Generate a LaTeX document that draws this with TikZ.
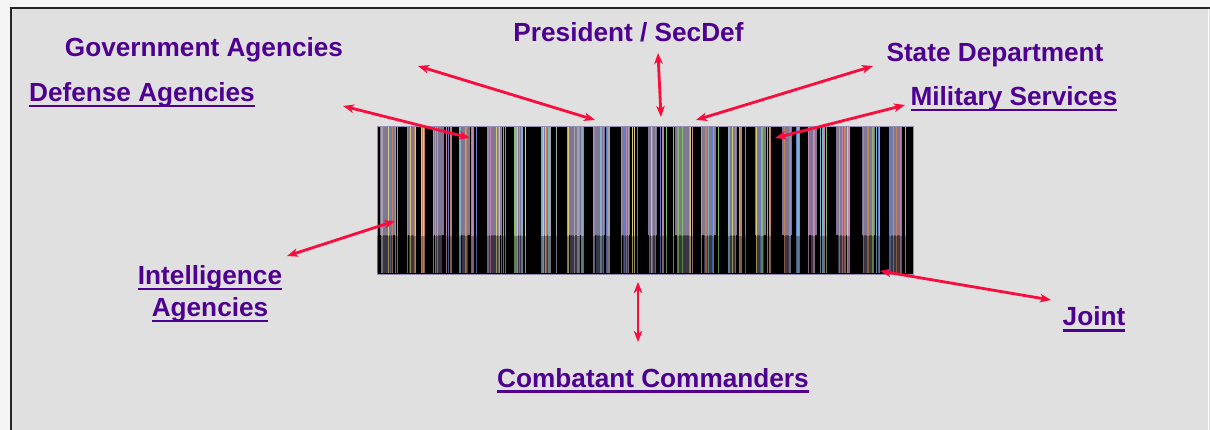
\documentclass[tikz,border=0pt]{standalone}
\usepackage{fontspec}
\setmainfont{Liberation Sans}
\usetikzlibrary{arrows.meta}
\definecolor{bgpanel}{RGB}{224,224,224}
\definecolor{txtpurple}{RGB}{78,0,145}
\definecolor{arrred}{RGB}{250,12,60}
\definecolor{bc1}{RGB}{150,140,175}
\definecolor{bc2}{RGB}{130,190,100}
\definecolor{bc3}{RGB}{215,205,120}
\definecolor{bc4}{RGB}{195,130,90}
\definecolor{bc5}{RGB}{100,125,200}
\definecolor{bc6}{RGB}{130,180,200}
\definecolor{bc7}{RGB}{195,135,175}
\definecolor{bc8}{RGB}{165,160,175}
\newcommand\ulbox[1]{\setbox0\hbox{#1}\rlap{\rule[-5.5pt]{\wd0}{2.2pt}}\box0}
\begin{document}
\begin{tikzpicture}[x=1pt,y=-1pt,
  lab/.style={text=txtpurple, font=\fontsize{26.2}{30}\selectfont\bfseries, anchor=base, inner sep=0pt},
  arr/.style={draw=arrred, line width=2.8pt,
    {Stealth[length=11pt,width=8.5pt,inset=3pt]}-{Stealth[length=11pt,width=8.5pt,inset=3pt]}}]
\useasboundingbox (0,0) rectangle (1210,430);
\fill[white!96!black] (0,0) rectangle (1210,430);
\fill[bgpanel] (10,8) rectangle (1210,430);
\draw[black!85, line width=2pt] (11,430) -- (11,8) -- (1210,8);
\draw[white!90!bgpanel, line width=1pt] (1208.5,9) -- (1208.5,430);

% barcode image
\node[fill=black, draw=bc1, line width=0.8pt, minimum width=536pt, minimum height=148pt, inner sep=0pt] (bar) at (645,200) {};
\pgfmathsetseed{7}
\begin{scope}
\clip (377,127) rectangle (913,273);
\foreach \i in {0,...,19}{
  \pgfmathsetmacro\xo{379+26.8*\i}
  \pgfmathsetmacro\bw{8+rnd*8}
  \fill[bc1!85!black] (\xo+1,127) rectangle ++(\bw,108);
  \fill[bc1!55!black] (\xo+3,235) rectangle ++(\bw-4,38);
  \foreach \j in {1,...,9}{
    \pgfmathsetmacro\xl{\xo+rnd*19}
    \pgfmathtruncatemacro\cc{random(1,8)}
    \draw[bc\cc, line width=0.9pt] (\xl,127) -- (\xl,273);
  }
}
\fill[black, opacity=0.3] (377,236) rectangle (913,274);
\end{scope}

% labels
\node[lab] (gov) at (204,57) {Government Agencies};
\node[lab] (def) at (142,102) {\ulbox{Defense Agencies}};
\node[lab] (pres) at (628.5,42) {President / SecDef};
\node[lab] (state) at (995,62) {State Department};
\node[lab] (mil) at (1014,106) {\ulbox{Military Services}};
\node[lab, anchor=center, align=center] (intel) at (210,294) {\ulbox{Intelligence}\\[1.5pt]\ulbox{Agencies}};
\node[lab] (cc) at (653,387) {\ulbox{Combatant Commanders}};
\node[lab] (joint) at (1094,326) {\ulbox{Joint}};

% arrow ends
\coordinate (ga1) at (418,66);   \coordinate (ga2) at (595,120);
\coordinate (da1) at (343,106);  \coordinate (da2) at (470,138);
\coordinate (pr1) at (658,53);   \coordinate (pr2) at (661,117);
\coordinate (sd1) at (873,66);   \coordinate (sd2) at (696,120);
\coordinate (ms1) at (905,105);  \coordinate (ms2) at (775,138);
\coordinate (ia1) at (287,256);  \coordinate (ia2) at (395,221);
\coordinate (cc1) at (638,282);  \coordinate (cc2) at (638,342);
\coordinate (jo1) at (880,271);  \coordinate (jo2) at (1051,300);

\draw[arr] (ga1) -- (ga2);
\draw[arr] (da1) -- (da2);
\draw[arr] (pr1) -- (pr2);
\draw[arr] (sd1) -- (sd2);
\draw[arr] (ms1) -- (ms2);
\draw[arr] (ia1) -- (ia2);
\draw[arr] (cc1) -- (cc2);
\draw[arr] (jo1) -- (jo2);
\end{tikzpicture}
\end{document}
